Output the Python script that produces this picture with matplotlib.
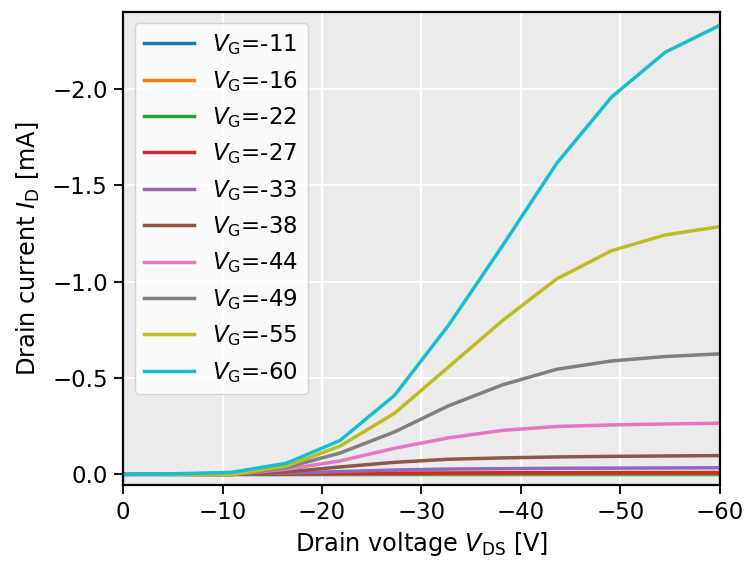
import matplotlib
matplotlib.use("Agg")
import matplotlib.pyplot as plt

vds = [0, -5.45, -10.9, -16.4, -21.8, -27.3, -32.7, -38.2, -43.6, -49.1, -54.5, -60]
vg_labels = ["-11", "-16", "-22", "-27", "-33", "-38", "-44", "-49", "-55", "-60"]

id_vg11 = [0, 0, 0, 0, 0, 0, 0, 0, 0, 0, 0, 0]
id_vg16 = [0, 0, 0, 0, 0, -0.001, -0.001, -0.001, -0.001, -0.001, -0.001, -0.001]
id_vg22 = [0, 0, 0, -0.001, -0.002, -0.002, -0.003, -0.003, -0.003, -0.003, -0.003, -0.003]
id_vg27 = [0, 0, 0, -0.002, -0.004, -0.006, -0.007, -0.008, -0.008, -0.009, -0.009, -0.009]
id_vg33 = [0, 0, 0, -0.006, -0.014, -0.022, -0.027, -0.029, -0.031, -0.032, -0.033, -0.034]
id_vg38 = [0, 0, 0.001, -0.012, -0.038, -0.062, -0.078, -0.085, -0.09, -0.093, -0.095, -0.097]
id_vg44 = [0, 0, 0.001, -0.026, -0.069, -0.135, -0.189, -0.228, -0.248, -0.256, -0.261, -0.265]
id_vg49 = [0, 0, 0.002, -0.035, -0.11, -0.22, -0.355, -0.465, -0.545, -0.588, -0.611, -0.625]
id_vg55 = [0, 0, 0.002, -0.042, -0.146, -0.317, -0.556, -0.80, -1.014, -1.16, -1.242, -1.285]
id_vg60 = [0, -0.003, -0.01, -0.057, -0.175, -0.41, -0.772, -1.19, -1.614, -1.957, -2.19, -2.33]

series = [id_vg11, id_vg16, id_vg22, id_vg27, id_vg33, id_vg38, id_vg44, id_vg49, id_vg55, id_vg60]

fs = 16.5
fig = plt.figure(figsize=(7.46, 5.61), dpi=100)
ax = fig.add_axes([0.165, 0.135, 0.8, 0.844])
ax.set_facecolor("#ebebeb")
ax.grid(True, color="white", linewidth=1.6)
ax.set_axisbelow(True)

for lab, ys in zip(vg_labels, series):
    ax.plot(vds, ys, linewidth=2.5, label=r"$V_\mathrm{G}$=" + lab)

ax.set_xlim(0, -60)
ax.set_ylim(0.057, -2.40)
ax.set_xticks([0, -10, -20, -30, -40, -50, -60])
ax.set_yticks([0.0, -0.5, -1.0, -1.5, -2.0])
ax.tick_params(labelsize=fs, length=6.5, width=1.3, pad=4.5)
for s in ax.spines.values():
    s.set_linewidth(1.6)
    s.set_color("black")
ax.set_xlabel(r"Drain voltage $V_\mathrm{DS}$ [V]", fontsize=17.3, labelpad=5)
ax.set_ylabel(r"Drain current $I_\mathrm{D}$ [mA]", fontsize=17.3, labelpad=7)
ax.legend(loc="upper left", fontsize=fs, handlelength=2.2, labelspacing=0.5)

fig.savefig("out.png", dpi=100)
